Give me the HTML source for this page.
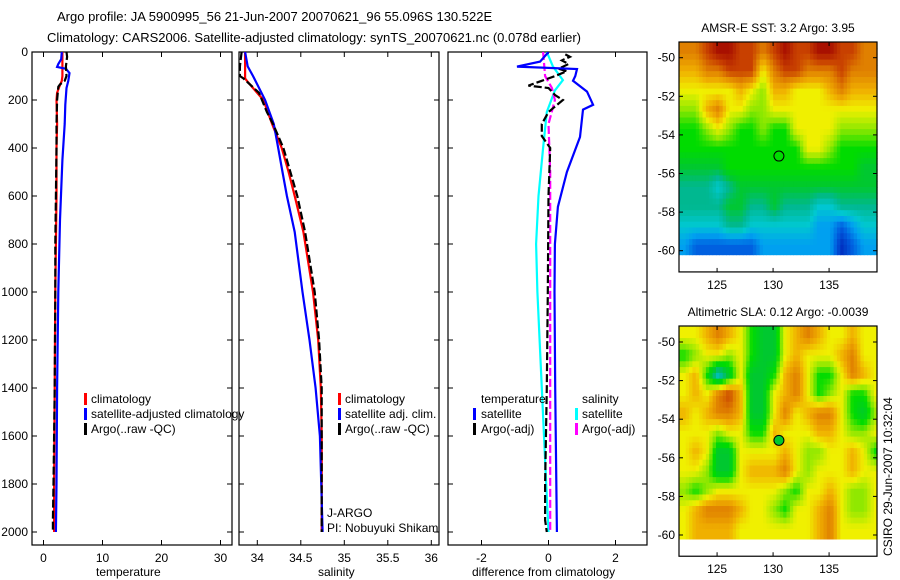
<!DOCTYPE html>
<html><head><meta charset="utf-8"><style>
html,body{margin:0;padding:0;background:#fff;}
svg{display:block;font-family:"Liberation Sans",sans-serif;}
text{font-size:12px;fill:#000;}
</style></head><body>
<svg id="fig" width="900" height="580" viewBox="0 0 900 580" xmlns="http://www.w3.org/2000/svg">
<text x="57" y="21" style="font-size:13px">Argo profile: JA 5900995_56 21-Jun-2007 20070621_96 55.096S 130.522E</text>
<text x="47" y="42" style="font-size:13px">Climatology: CARS2006. Satellite-adjusted climatology: synTS_20070621.nc (0.078d earlier)</text>
<defs>
<clipPath id="c1"><rect x="32" y="52" width="200" height="493"/></clipPath>
<clipPath id="c2"><rect x="239" y="52" width="200" height="493"/></clipPath>
<clipPath id="c3"><rect x="448" y="52" width="199" height="493"/></clipPath>
</defs>
<g id="g1"></g>
<g id="g2"></g>
<g id="g3"></g>
<g id="m1"></g>
<g id="m2"></g>
<text x="778" y="32" text-anchor="middle">AMSR-E SST: 3.2 Argo: 3.95</text>
<text x="778" y="316" text-anchor="middle">Altimetric SLA: 0.12 Argo: -0.0039</text>
<text transform="translate(892,556) rotate(-90)">CSIRO 29-Jun-2007 10:32:04</text>
</svg>
<script>
// ---- profile data ----
const depthTicks=[0,200,400,600,800,1000,1200,1400,1600,1800,2000];
const tempTicks=[0,10,20,30];
const salTicks=[34,34.5,35,35.5,36];
const salTickLabels=["34","34.5","35","35.5","36"];
const diffTicks=[-2,0,2];

const tClimDepth=[0,50,100,120,150,170,200,300,400,600,800,1000,1400,1800,2000];
const tClim=[3.2,3.2,3.2,3.1,2.6,2.3,2.2,2.3,2.2,2.2,2.1,2.0,1.9,1.8,1.8];
const tSatDepth=[0,30,50,62,70,88,120,150,220,300,450,700,1000,1400,1800,2000];
const tSat=[3.1,3.0,2.5,2.3,3.8,4.4,4.2,3.9,3.7,3.6,3.2,2.8,2.5,2.3,2.2,2.1];
const tArgoDepth=[0,20,60,100,120,135,145,200,300,400,600,800,1000,1400,1600,1800,1950,2000];
const tArgo=[3.9,4.0,3.8,3.9,3.6,2.8,2.5,2.3,2.2,2.2,2.1,2.0,2.0,1.9,1.8,1.7,1.6,1.6];

const sClimDepth=[0,110,120,150,200,300,400,500,600,750,1000,1200,1400,1600,2000];
const sClim=[33.86,33.86,33.88,33.95,34.07,34.17,34.28,34.36,34.43,34.53,34.64,34.70,34.73,34.74,34.74];
const sSatDepth=[0,60,100,200,300,400,500,600,750,1000,1200,1400,1600,2000];
const sSat=[33.86,33.89,33.95,34.09,34.19,34.24,34.29,34.34,34.43,34.52,34.60,34.67,34.72,34.75];
const sArgoDepth=[0,60,100,110,130,170,250,300,400,500,600,750,1000,1200,1400,1600,2000];
const sArgo=[33.82,33.80,33.80,33.84,33.90,34.02,34.11,34.18,34.30,34.38,34.46,34.55,34.66,34.71,34.74,34.74,34.74];

const dTSatDepth=[0,40,61,71,100,120,165,220,240,354,500,645,800,1000,1400,2000];
const dTSat=[0,-0.25,-0.94,0.85,0.8,0.73,1.15,1.33,1.03,0.94,0.55,0.28,0.19,0.18,0.2,0.25];
const dSSatDepth=[0,60,117,160,250,400,600,800,1000,1400,1700,2000];
const dSSat=[-0.05,0.13,0.43,0.19,-0.05,-0.16,-0.3,-0.37,-0.33,-0.2,-0.1,0];
const dTArgoDepth=[10,20,35,50,70,80,100,120,140,150,180,200,250,300,350,400,600,1000,1400,1800,1950,2000];
const dTArgo=[0.5,0.64,0.4,0.6,0.3,0.55,0.2,-0.2,-0.6,0,0.2,0.43,0,-0.2,-0.2,0.05,0,-0.02,-0.05,-0.1,-0.1,-0.05];
const dSArgoDepth=[0,100,150,200,300,500,1000,1500,2000];
const dSArgo=[-0.16,-0.1,0.1,0.19,0,0.05,0.05,0.05,0.05];

// ---- map data (1 deg lon cols centred 122.1..139.1, rows centred -49.7 southward) ----
const mapLonTicks=[125,130,135];
const mapLatTicks=[-50,-52,-54,-56,-58,-60];
const argoLon=130.522, argoLat=-55.096;
const sstGrid=[
[10,10,11,12,12,11,11,10,11,12,11,11,12,12,11,11,10,10],
[9,9,10,10,11,11,11,8,10,11,11,10,10,10,11,10,10,10],
[8,8,8,8,8,9,8,7,9,9,8,8,8,9,10,9,9,9],
[7,7,9,10,8,8,7,7,8,8,8,8,8,8,8,8,8,8],
[6,6,7,8,7,6,6,7,6,6,8,8,8,8,7,7,7,7],
[6,6,6,6,6,6,6,6,6,6,6,8,8,7,6,6,6,6],
[5,5,5,5,6,6,6,6,6,6,6,6,6,6,6,6,5,5],
[4,4,4,3,4,5,5,5,5,5,5,5,5,5,5,5,5,5],
[4,4,4,4,5,5,4,4,5,4,4,4,3,3,4,4,4,4],
[3,3,3,3,4,4,3,3,3,3,3,3,2,2,1,2,3,3],
[2,1,1,1,1,1,1,2,2,2,2,2,2,2,0,1,2,2]];
const slaGrid=[
[8,8,9,10,9,8,6,5,5,8,9,10,9,8,8,9,8,8],
[6,7,8,8,7,8,6,5,5,8,9,8,8,8,9,10,8,8],
[8,9,6,3,5,8,5,5,6,9,10,8,6,6,8,10,9,8],
[8,9,8,10,11,9,5,5,8,9,10,8,6,7,8,6,6,8],
[9,8,9,10,10,9,5,5,8,10,8,9,10,10,8,6,5,7],
[8,8,8,7,8,8,6,6,9,8,8,8,9,9,8,7,7,8],
[8,9,8,5,5,8,8,8,8,9,8,7,7,8,8,9,8,6],
[8,8,7,5,5,8,9,9,9,10,8,7,8,8,8,9,8,8],
[7,6,7,8,8,8,8,8,8,7,6,8,8,9,8,7,7,8],
[8,9,10,10,10,9,8,8,7,6,8,8,9,10,8,7,7,8],
[8,9,9,9,9,8,8,8,8,8,8,8,9,10,8,8,8,8]];
const palette=[[0,48,192],[0,96,224],[0,160,240],[0,200,208],[0,184,144],[0,200,48],[0,220,0],[144,232,0],[240,240,0],[240,176,0],[224,128,0],[200,64,0],[168,16,0]];

const NS="http://www.w3.org/2000/svg";
function mk(p,t,a){const e=document.createElementNS(NS,t);for(const k in a)e.setAttribute(k,a[k]);p.appendChild(e);return e;}
const yD=d=>52+d*0.24;
const xT=v=>43.5+v*5.9;
const xS=v=>257.3+(v-34)*87;
const xDf=v=>548.5+v*33.5;

function frame(g,x0,x1,y0,y1){
  const r=mk(g,'rect',{x:x0,y:y0,width:x1-x0,height:y1-y0,fill:'none',stroke:'#000','stroke-width':1.2});
  
  
}
function line(g,xs,ds,xf,col,clip,dash,name){
  const pts=xs.map((v,i)=>xf(v).toFixed(1)+','+yD(ds[i]).toFixed(1)).join(' ');
  const p=mk(g,'polyline',{points:pts,fill:'none',stroke:col,'stroke-width':2.2,'clip-path':'url(#'+clip+')'});
  if(dash)p.setAttribute('stroke-dasharray',dash);
  
  
}
function xticks(g,vals,labels,xf,y0,y1){
  vals.forEach((v,i)=>{
    const x=xf(v);
    mk(g,'line',{x1:x,x2:x,y1:y1,y2:y1-5,stroke:'#000'});
    mk(g,'line',{x1:x,x2:x,y1:y0,y2:y0+5,stroke:'#000'});
    const t=mk(g,'text',{x:x,y:y1+17,'text-anchor':'middle'});t.textContent=labels[i];
    
    
  });
}
function yticks(g,x0,x1,lab){
  depthTicks.forEach(d=>{
    const y=yD(d);
    mk(g,'line',{x1:x0,x2:x0+5,y1:y,y2:y,stroke:'#000'});
    mk(g,'line',{x1:x1,x2:x1-5,y1:y,y2:y,stroke:'#000'});
    if(lab){const t=mk(g,'text',{x:x0-4,y:y+4,'text-anchor':'end'});t.textContent=d;
      
      }
  });
}
function txt(g,x,y,s,name,clip){const t=mk(g,'text',{x:x,y:y});t.textContent=s;if(clip)t.setAttribute('clip-path','url(#'+clip+')');
  
  return t;}
function legbar(g,x,y,col){const r=mk(g,'rect',{x:x,y:y-10,width:3,height:12,fill:col});
  
  }

// panel 1
const g1=document.getElementById('g1');
frame(g1,32,232,52,545);
xticks(g1,tempTicks,tempTicks.map(String),xT,52,545);
yticks(g1,32,232,true);
line(g1,tClim,tClimDepth,xT,'#ff0000','c1',null,'temp-climatology-line');
line(g1,tSat,tSatDepth,xT,'#0000ff','c1',null,'temp-satellite-line');
line(g1,tArgo,tArgoDepth,xT,'#000','c1','8,3','temp-argo-line');
txt(g1,96,576,'temperature','x-axis-title');
legbar(g1,84,403,'#f00');txt(g1,91,403,'climatology','legend-entry');
legbar(g1,84,418,'#00f');txt(g1,91,418,'satellite-adjusted climatology','legend-entry');
legbar(g1,84,433,'#000');txt(g1,91,433,'Argo(..raw -QC)','legend-entry');

// panel 2
const g2=document.getElementById('g2');
frame(g2,239,439,52,545);
xticks(g2,salTicks,salTickLabels,xS,52,545);
yticks(g2,239,439,false);
line(g2,sClim,sClimDepth,xS,'#ff0000','c2',null,'sal-climatology-line');
line(g2,sSat,sSatDepth,xS,'#0000ff','c2',null,'sal-satellite-line');
line(g2,sArgo,sArgoDepth,xS,'#000','c2','8,3','sal-argo-line');
txt(g2,318,576,'salinity','x-axis-title');
legbar(g2,338,403,'#f00');txt(g2,345,403,'climatology','legend-entry');
legbar(g2,338,418,'#00f');txt(g2,345,418,'satellite adj. clim.','legend-entry');
legbar(g2,338,433,'#000');txt(g2,345,433,'Argo(..raw -QC)','legend-entry');
txt(g2,327,517,'J-ARGO','float-program-label');
txt(g2,327,532,'PI: Nobuyuki Shikama','pi-label','c2');

// panel 3
const g3=document.getElementById('g3');
frame(g3,448,647,52,545);
xticks(g3,diffTicks,diffTicks.map(String),xDf,52,545);
yticks(g3,448,647,false);
line(g3,dSSat,dSSatDepth,xDf,'#00ffff','c3',null,'sal-diff-satellite-line');
line(g3,dSArgo,dSArgoDepth,xDf,'#ff00ff','c3','8,3','sal-diff-argo-line');
line(g3,dTArgo,dTArgoDepth,xDf,'#000','c3','8,3','temp-diff-argo-line');
line(g3,dTSat,dTSatDepth,xDf,'#0000ff','c3',null,'temp-diff-satellite-line');
txt(g3,472,576,'difference from climatology','x-axis-title');
txt(g3,481,403,'temperature','legend-header');
legbar(g3,473,418,'#00f');txt(g3,481,418,'satellite','legend-entry');
legbar(g3,473,433,'#000');txt(g3,481,433,'Argo(-adj)','legend-entry');
txt(g3,582,403,'salinity','legend-header');
legbar(g3,575,418,'#0ff');txt(g3,582,418,'satellite','legend-entry');
legbar(g3,575,433,'#f0f');txt(g3,582,433,'Argo(-adj)','legend-entry');

// maps
function colorFor(v){
  v=Math.max(0,Math.min(palette.length-1,v));
  const i=Math.min(palette.length-2,Math.floor(v)), f=v-i;
  const a=palette[i], b=palette[i+1];
  return 'rgb('+a.map((c,k)=>Math.round(c+(b[k]-c)*f)).join(',')+')';
}
function sample(grid,fr,fc){
  const R=grid.length-1, C=grid[0].length-1;
  fr=Math.max(0,Math.min(R,fr)); fc=Math.max(0,Math.min(C,fc));
  const r0=Math.min(R-1,Math.floor(fr)), c0=Math.min(C-1,Math.floor(fc));
  const u=fr-r0, w=fc-c0;
  return grid[r0][c0]*(1-u)*(1-w)+grid[r0][c0+1]*(1-u)*w+grid[r0+1][c0]*u*(1-w)+grid[r0+1][c0+1]*u*w;
}
function map(id,grid,top,lat50,markerFill){
  const g=document.getElementById(id);
  const sy=19.3, lonL=121.6, sx=11.2, x0=679, x1=877;
  const xL=lon=>x0+(lon-lonL)*sx;
  const yL=lat=>lat50+(-50-lat)*sy;
  const bottom=yL(-61.1);
  const step=0.3;
  for(let lat=-49.2; lat>-60.2-1e-6; lat-=step){
    for(let lon=lonL; lon<139.3-1e-6; lon+=step){
      const v=sample(grid,(-49.7-(lat-step/2)),(lon+step/2-122.1));
      const ya=Math.max(top,yL(lat)), yb=yL(Math.max(-60.2,lat-step));
      const xa=xL(lon), xb=Math.min(x1,xL(lon+step));
      const cell=mk(g,'rect',{x:xa.toFixed(1),y:ya.toFixed(1),width:(xb-xa+0.6).toFixed(1),height:(yb-ya+0.6).toFixed(1),fill:colorFor(v)});
      
      
    }
  }
  frame(g,x0,x1,top,bottom);
  mapLonTicks.forEach(l=>{const x=xL(l);
    mk(g,'line',{x1:x,x2:x,y1:top,y2:top+4,stroke:'#000'});
    mk(g,'line',{x1:x,x2:x,y1:bottom,y2:bottom-4,stroke:'#000'});
    const t=mk(g,'text',{x:x,y:bottom+17,'text-anchor':'middle'});t.textContent=l;
    
    });
  mapLatTicks.forEach(l=>{const y=yL(l);
    mk(g,'line',{x1:x0,x2:x0+4,y1:y,y2:y,stroke:'#000'});
    mk(g,'line',{x1:x1,x2:x1-4,y1:y,y2:y,stroke:'#000'});
    const t=mk(g,'text',{x:x0-4,y:y+4,'text-anchor':'end'});t.textContent=l;
    
    });
  const m=mk(g,'circle',{cx:xL(argoLon),cy:yL(argoLat),r:5,fill:markerFill,stroke:'#000','stroke-width':1});
  
  
}
map('m1',sstGrid,42,57.7,'#00dc00');
map('m2',slaGrid,326,342,'#00c830');
</script>
</body></html>
